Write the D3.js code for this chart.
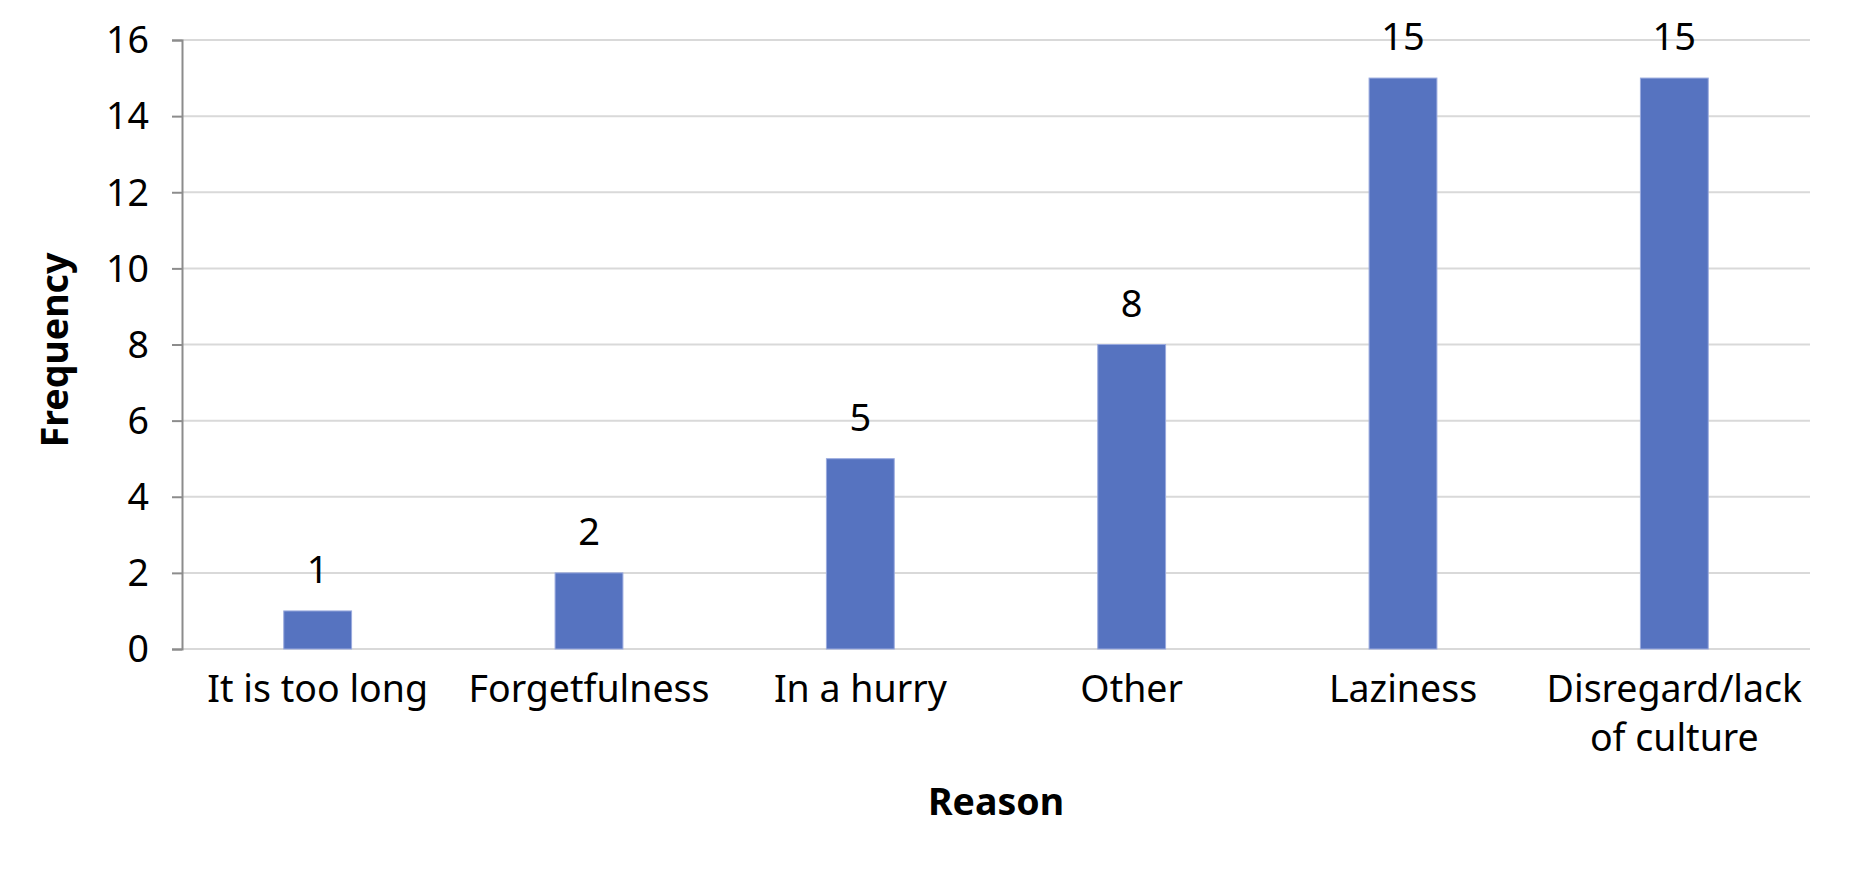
<!DOCTYPE html>
<html>
<head>
<meta charset="utf-8">
<script src="https://cdn.jsdelivr.net/npm/d3@7"></script>
<style>
  body { margin: 0; background: #fff; }
  svg { display: block; }
  text { font-family: "Noto Sans", "Open Sans", sans-serif; fill: #000; }
  .tick_label { font-size: 37.5px; }
  .value_label { font-size: 38px; }
  .axis_title { font-size: 37.5px; font-weight: bold; }
</style>
</head>
<body>
<svg id="chart"></svg>
<script>
const reasons = [["It is too long"], ["Forgetfulness"], ["In a hurry"], ["Other"], ["Laziness"], ["Disregard/lack", "of culture"]]
const frequency = [1, 2, 5, 8, 15, 15]
const y_ticks = [0, 2, 4, 6, 8, 10, 12, 14, 16]

const width = 1849
const height = 870
const margin = {left: 182, right: 39, top: 40, bottom: 221}

const svg = d3.select("#chart").attr("width", width).attr("height", height)

const names = reasons.map(r => r.join(" "))

const x = d3.scaleBand()
	.domain(names)
	.range([margin.left, width - margin.right])
	.paddingInner(0.75)
	.paddingOuter(0.375)

const y = d3.scaleLinear()
	.domain([0, 16])
	.range([height - margin.bottom, margin.top])

// gridlines
svg.append("g").classed("grid", true)
	.selectAll("line")
	.data(y_ticks)
	.join("line")
	.attr("x1", margin.left)
	.attr("x2", width - margin.right)
	.attr("y1", d => y(d))
	.attr("y2", d => y(d))
	.attr("stroke", "#d9d9d9")
	.attr("stroke-width", 2)

// y axis
const y_axis = svg.append("g")
	.attr("transform", `translate(${margin.left},0)`)
	.call(d3.axisLeft(y).tickValues(y_ticks).tickSize(10).tickPadding(23))
y_axis.select(".domain").attr("stroke", "#8c8c8c").attr("stroke-width", 2)
y_axis.selectAll(".tick line").attr("stroke", "#8c8c8c").attr("stroke-width", 2)
y_axis.selectAll(".tick text")
	.classed("tick_label", true)
	.attr("font-size", null)
	.attr("font-family", null)
	.attr("fill", "#000")
	.attr("dy", "0.34em")
y_axis.attr("font-size", null).attr("font-family", null)

// bars
svg.append("g").classed("bars", true)
	.selectAll("rect")
	.data(frequency)
	.join("rect")
	.attr("x", (d, i) => x(names[i]))
	.attr("width", x.bandwidth())
	.attr("y", d => y(d))
	.attr("height", d => y(0) - y(d))
	.attr("fill", "#5673c0")
	.attr("stroke", "#9aaade")
	.attr("stroke-width", 1)

// value labels
svg.append("g").classed("values", true)
	.selectAll("text")
	.data(frequency)
	.join("text")
	.classed("value_label", true)
	.attr("text-anchor", "middle")
	.attr("x", (d, i) => x(names[i]) + x.bandwidth() / 2)
	.attr("y", d => y(d) - 28)
	.text(d => d)

// category labels
const cat = svg.append("g").classed("categories", true)
	.selectAll("text")
	.data(reasons)
	.join("text")
	.classed("tick_label", true)
	.attr("text-anchor", "middle")
	.attr("x", (d, i) => x(names[i]) + x.bandwidth() / 2)
	.attr("y", y(0) + 53)
cat.selectAll("tspan")
	.data(d => d)
	.join("tspan")
	.attr("x", function () { return d3.select(this.parentNode).attr("x") })
	.attr("dy", (d, i) => i === 0 ? 0 : 49)
	.text(d => d)

// axis titles
svg.append("text")
	.classed("axis_title", true)
	.attr("text-anchor", "middle")
	.attr("x", (margin.left + width - margin.right) / 2)
	.attr("y", 815)
	.text("Reason")

svg.append("text")
	.classed("axis_title", true)
	.attr("text-anchor", "middle")
	.attr("transform", "translate(68,350) rotate(-90)")
	.text("Frequency")
</script>
</body>
</html>
